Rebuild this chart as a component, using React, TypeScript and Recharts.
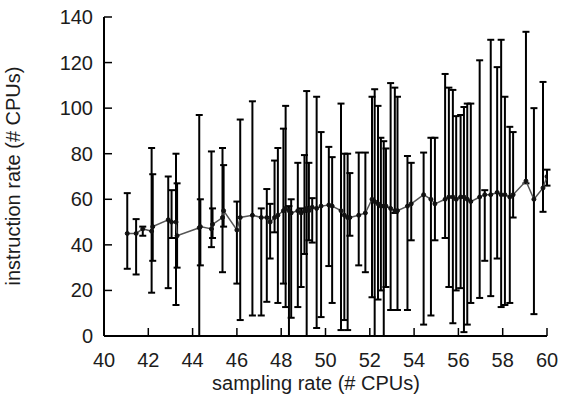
import { ErrorBar, Line, LineChart, XAxis, YAxis } from "recharts";

// sampling rate (# CPUs)
const xs = [
  41.05, 41.45, 41.75, 42.15, 42.2, 42.9, 43.05, 43.25, 43.3, 44.3, 44.35, 44.85,
  44.9, 45.35, 45.4, 46.0, 46.15, 46.7, 47.1, 47.35, 47.5, 47.7, 47.85, 48.1,
  48.2, 48.35, 48.45, 48.75, 48.9, 49.05, 49.15, 49.25, 49.4, 49.6, 49.8, 50.15,
  50.3, 50.7, 50.85, 51.0, 51.1, 51.5, 51.8, 52.1, 52.22, 52.37, 52.5, 52.63,
  52.73, 52.94, 53.13, 53.25, 53.7, 53.87, 54.43, 54.76, 54.94, 55.4, 55.57, 55.75,
  55.9, 56.1, 56.25, 56.4, 56.56, 56.96, 57.19, 57.46, 57.75, 57.93, 58.1, 58.32,
  58.47, 59.05, 59.41, 59.82, 60.0,
];

// mean instruction rate
const means = [
  45, 45, 47, 46, 48, 51, 50, 50, 44, 47.5, 48, 47,
  49, 52, 55, 46.5, 52, 53, 52, 52, 50, 52, 53, 55,
  56, 55, 54, 55, 54, 55, 56, 55, 56.5, 56, 57, 57.5,
  57, 55, 53, 52, 52, 53, 54, 60, 59, 58, 57, 57,
  57, 56, 55, 55, 57, 58, 62, 60, 58, 60, 61, 61,
  60, 61, 61, 60, 59, 61, 62, 62, 63, 62, 62, 61,
  62, 68, 60, 65, 70,
];

const lows = [
  29.5, 27, 44, 19, 33, 21, 43, 13.6, 30, 0, 31, 39,
  43, 28, 48, 23, 7, 9, 9, 15, 34, 45.5, 14.5, 23,
  12.7, 0, 8, 12.7, 21.5, 36, 0, 42, 41, 3.5, 8.3, 30.7,
  14.5, 2.6, 7, 2.6, 44, 31, 28, 17, 0, 16, 20, 0,
  21.5, 11.4, 54, 11.4, 11.4, 42, 5, 9, 42, 43, 21.5, 5.6,
  20, 21, 1.7, 5, 14.5, 16.7, 33, 17.5, 34, 12.7, 13.6, 14.5,
  52, 67, 9.6, 54.5, 66,
];

const highs = [
  62.7, 51.3, 48, 82.5, 71, 70, 64, 80, 67, 97, 60, 81,
  56, 82.5, 75, 59, 95, 103, 56, 64.5, 58, 77, 82.5, 91,
  101, 57, 60, 76, 56, 79.4, 107.5, 76, 60.5, 105, 89.5, 83,
  78.5, 102, 80, 80, 71.5, 80.5, 80.5, 105, 108.3, 101, 87, 85.5,
  82.3, 111, 109, 105, 79, 76, 80.5, 87, 87, 115, 109, 108,
  96.5, 97, 100.5, 102, 102, 121, 64, 130, 118, 130, 105, 91.8,
  89.5, 133.5, 100, 111.5, 73,
];

const xTicks = [40, 42, 44, 46, 48, 50, 52, 54, 56, 58, 60];
const yTicks = [0, 20, 40, 60, 80, 100, 120, 140];

const rows = xs.map((x, i) => ({
  x,
  y: means[i],
  err: [means[i] - lows[i], highs[i] - means[i]],
}));

const font = "'Liberation Sans', Arial, sans-serif";
const ink = "#1c1c1c";

function BottomTick({ x, y, payload }: any) {
  return (
    <g>
      <line x1={x} y1={y} x2={x} y2={y - 8} stroke="#000" strokeWidth={1.5} />
      <text x={x} y={y + 31} textAnchor="middle" fontSize={20} fill={ink} fontFamily={font}>
        {payload.value}
      </text>
    </g>
  );
}

function TopTick({ x, y }: any) {
  return <line x1={x} y1={y} x2={x} y2={y + 8} stroke="#000" strokeWidth={1.5} />;
}

function LeftTick({ x, y, payload }: any) {
  return (
    <g>
      <line x1={x} y1={y} x2={x + 8} y2={y} stroke="#000" strokeWidth={1.5} />
      <text x={x - 11} y={y + 7} textAnchor="end" fontSize={20} fill={ink} fontFamily={font}>
        {payload.value}
      </text>
    </g>
  );
}

function RightTick({ x, y }: any) {
  return <line x1={x} y1={y} x2={x - 8} y2={y} stroke="#000" strokeWidth={1.5} />;
}

export default function App() {
  return (
    <div style={{ position: "absolute", left: 0, top: 0, background: "#fff" }}>
      <LineChart
        width={561}
        height={401}
        data={rows}
        margin={{ top: 17, right: 14, bottom: 0, left: 0 }}
      >
        <XAxis
          dataKey="x"
          type="number"
          domain={[40, 60]}
          ticks={xTicks}
          height={65}
          tickSize={0}
          tickMargin={0}
          tickLine={false}
          tick={<BottomTick />}
          axisLine={{ stroke: "#000", strokeWidth: 2 }}
          allowDataOverflow
          label={{
            content: () => (
              <text x={316} y={390} textAnchor="middle" fontSize={20} fill={ink} fontFamily={font}>
                sampling rate (# CPUs)
              </text>
            ),
          }}
        />
        <XAxis
          xAxisId="top"
          dataKey="x"
          type="number"
          orientation="top"
          domain={[40, 60]}
          ticks={xTicks}
          height={0}
          tickSize={0}
          tickMargin={0}
          tickLine={false}
          tick={<TopTick />}
          axisLine={{ stroke: "#000", strokeWidth: 2 }}
          allowDataOverflow
        />
        <YAxis
          type="number"
          domain={[0, 140]}
          ticks={yTicks}
          width={104}
          tickSize={0}
          tickMargin={0}
          tickLine={false}
          tick={<LeftTick />}
          axisLine={{ stroke: "#000", strokeWidth: 2 }}
          allowDataOverflow
          label={{
            content: () => (
              <text
                x={20}
                y={176}
                transform="rotate(-90 20 176)"
                textAnchor="middle"
                fontSize={20}
                fill={ink}
                fontFamily={font}
              >
                instruction rate (# CPUs)
              </text>
            ),
          }}
        />
        <YAxis
          yAxisId="right"
          type="number"
          orientation="right"
          domain={[0, 140]}
          ticks={yTicks}
          width={0}
          tickSize={0}
          tickMargin={0}
          tickLine={false}
          tick={<RightTick />}
          axisLine={{ stroke: "#000", strokeWidth: 2 }}
          allowDataOverflow
        />
        <Line
          dataKey="y"
          type="linear"
          stroke="#555"
          strokeWidth={1.5}
          dot={{ r: 2, fill: "#111", stroke: "#111", strokeWidth: 1 }}
          isAnimationActive={false}
        >
          <ErrorBar
            dataKey={(d: any) => d.err}
            direction="y"
            width={3.5}
            stroke="#000"
            strokeWidth={2}
            isAnimationActive={false}
          />
        </Line>
      </LineChart>
    </div>
  );
}
